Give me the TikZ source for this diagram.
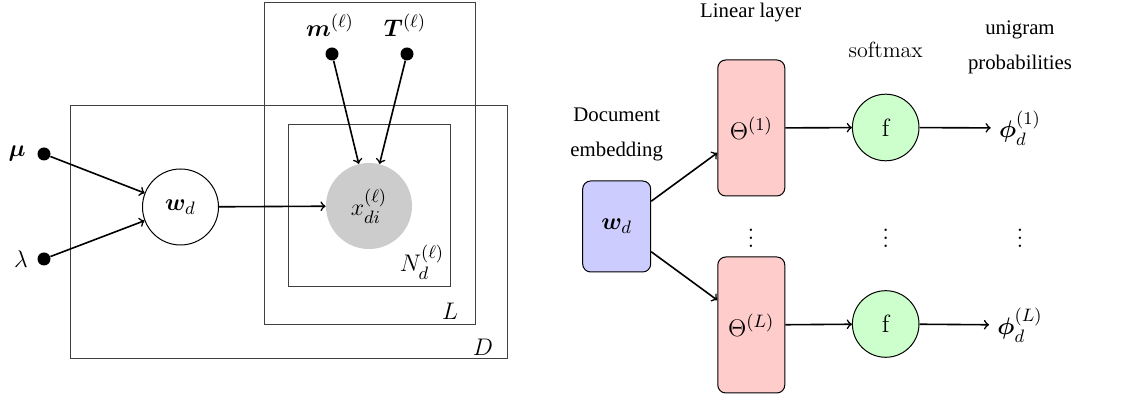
\documentclass[tikz,border=0pt,12pt]{standalone}
\usepackage{amsmath,bm}
\usepackage{fontspec}
\newfontfamily\tmsfont{Liberation Serif}
\usetikzlibrary{positioning, arrows}
\tikzset{x=0.5pt, y=-0.5pt, % one unit is one pixel of the page
every node/.style={font=\fontsize{12.5}{14}\selectfont},
edge/.style={->, >=to, line width=0.8pt}, % all connectors
latent/.style={circle, draw, line width=0.5pt, minimum size=38pt, inner sep=0pt},
obs/.style={circle, fill=black!20, minimum size=43pt, inner sep=0pt},
param/.style={circle, fill=black, minimum size=6.5pt, inner sep=0pt},
plate/.style={draw=black!75, line width=0.5pt},
embed/.style={rectangle, rounded corners=4pt, draw, line width=0.5pt, fill=blue!20, minimum width=34pt, minimum height=45.5pt},
layer/.style={rectangle, rounded corners=4pt, draw, line width=0.5pt, fill=red!20, minimum width=33.5pt, minimum height=68pt},
soft/.style={circle, draw, line width=0.5pt, fill=green!20, minimum size=33.3pt, inner sep=0pt},
caption/.style={font=\tmsfont\fontsize{10.4}{17.5}\selectfont, align=center, inner sep=0pt},
}

\begin{document}
\begin{tikzpicture}
  \useasboundingbox (0,0) rectangle (1148,399);

  % plates
  \draw[plate] (70,106) rectangle (507,359);
  \draw[plate] (264,3) rectangle (475,325);
  \draw[plate] (288,125) rectangle (450,287);
  \node (nlab) at (422,262) {$N_d^{(\ell)}$};
  \node (llab) at (450,311) {$L$};
  \node (dlab) at (483,347) {$D$};

  % graphical model
  \node[param] (mu) at (44,154) {};
  \node[param] (lam) at (44,259) {};
  \node (mulab) at (17,154) {$\boldsymbol{\mu}$};
  \node (lamlab) at (21,259) {$\lambda$};
  \node[latent] (wd) at (180.5,207) {$\boldsymbol{w}_d$};
  \node[obs] (xdi) at (369,206) {$x_{di}^{(\ell)}$};
  \node[param] (m) at (332,54) {};
  \node[param] (T) at (407,54) {};
  \node (mlab) at (330,25) {$\boldsymbol{m}^{(\ell)}$};
  \node (Tlab) at (405,25) {$\boldsymbol{T}^{(\ell)}$};

  \draw[edge] (mu) -- (wd);
  \draw[edge] (lam) -- (wd);
  \draw[edge] (wd) -- (xdi);
  \draw[edge] (m) -- (xdi);
  \draw[edge] (T) -- (xdi);

  % network
  \node[embed] (emb) at (616.7,226.5) {$\boldsymbol{w}_d$};
  \node[layer] (th1) at (751.3,128) {$\Theta^{(1)}$};
  \node[layer] (thL) at (751.3,325) {$\Theta^{(L)}$};
  \node[soft] (f1) at (885.7,127.5) {$\mathrm{f}$};
  \node[soft] (fL) at (885.7,324) {$\mathrm{f}$};
  \node (phi1) at (1020,128) {$\boldsymbol{\phi}_d^{(1)}$};
  \node (phiL) at (1020,325) {$\boldsymbol{\phi}_d^{(L)}$};
  \node[inner sep=0pt] (dots1) at (751,232) {$\vdots$};
  \node[inner sep=0pt] (dots2) at (885.7,232) {$\vdots$};
  \node[inner sep=0pt] (dots3) at (1020,232) {$\vdots$};

  \node[caption] (cemb) at (616.7,134) {Document\\embedding};
  \node[caption] (clin) at (750.7,13) {Linear layer};
  \node[caption, font=\fontsize{11}{13}\selectfont] (csoft) at (885.7,50) {softmax};
  \node[caption] (cuni) at (1020,47) {unigram\\probabilities};

  \draw[edge] (emb) -- (th1);
  \draw[edge] (emb) -- (thL);
  \draw[edge] (th1) -- (f1);
  \draw[edge] (thL) -- (fL);
  \draw[edge] (f1) -- (phi1);
  \draw[edge] (fL) -- (phiL);
\end{tikzpicture}
\end{document}
